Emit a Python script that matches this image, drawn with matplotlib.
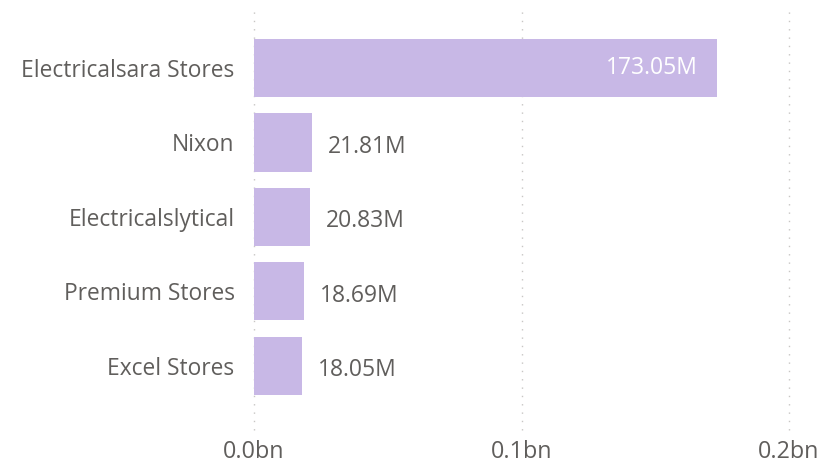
import matplotlib.pyplot as plt
from matplotlib.ticker import FuncFormatter

stores = ['Electricalsara Stores', 'Nixon', 'Electricalslytical', 'Premium Stores', 'Excel Stores']
sales_m = [173.05, 21.81, 20.83, 18.69, 18.05]
xticks_bn = [0.0, 0.1, 0.2]

bar_color = '#C8B8E6'
text_grey = '#605E5C'

plt.rcParams['font.family'] = ['Open Sans', 'DejaVu Sans']

fig = plt.figure(figsize=(8.19, 4.65), dpi=100)
ax = fig.add_axes([254 / 819, 1 - 430 / 465, (789 - 254) / 819, 422 / 465])

vals_bn = [v / 1000 for v in sales_m]
ypos = list(range(len(stores)))
ax.barh(ypos, vals_bn, height=0.78, color=bar_color, zorder=2)

ax.set_xlim(0, 0.2)
ax.set_ylim(4.86, -0.805)
ax.set_xticks(xticks_bn)
ax.xaxis.set_major_formatter(FuncFormatter(lambda v, p: f'{v:.1f}bn'))
ax.set_yticks(ypos)
ax.set_yticklabels(stores)
ax.tick_params(axis='y', length=0, labelsize=16.4, colors=text_grey, pad=14)
ax.tick_params(axis='x', length=0, labelsize=16.8, colors=text_grey, pad=7)

ax.grid(axis='x', color='#C8C6C4', linestyle=(0, (1, 5)), linewidth=1, zorder=0)
for gl in ax.get_xgridlines():
    gl.set_clip_on(False)
for s in ax.spines.values():
    s.set_visible(False)

# data labels
for y, v, m in zip(ypos, vals_bn, sales_m):
    lab = f'{m:.2f}M'
    if v > 0.1:
        ax.annotate(lab, (v, y), xytext=(-14, 0), textcoords='offset points',
                    ha='right', va='center', color='white', fontsize=16.5)
    else:
        ax.annotate(lab, (v, y), xytext=(11.5, -3), textcoords='offset points',
                    ha='left', va='center', color=text_grey, fontsize=16.5)

fig.savefig('out.png', dpi=100)
